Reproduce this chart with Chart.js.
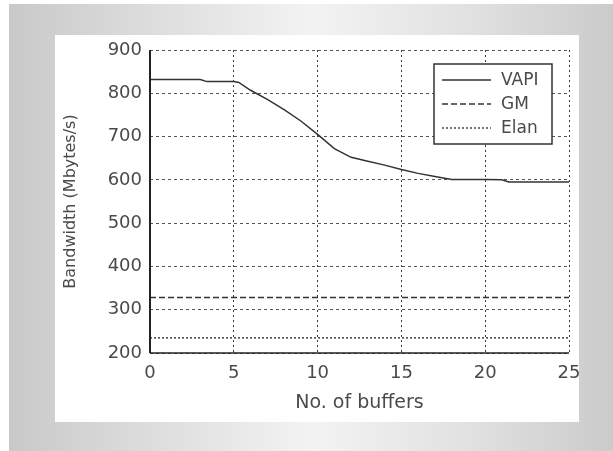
<!DOCTYPE html>
<html>
<head>
<meta charset="utf-8">
<script src="https://cdn.jsdelivr.net/npm/chart.js@4/dist/chart.umd.min.js"></script>
<style>
  html, body { margin: 0; padding: 0; background: #ffffff; }
  #frame { position: relative; width: 613px; height: 451px; overflow: hidden; background: #ffffff; }
  #shade {
    position: absolute; left: 9px; top: 4px; right: 0; bottom: 0;
    background: linear-gradient(to right, #c9c9c9 0%, #dedede 25%, #f3f3f3 50%, #e2e2e2 75%, #cbcbcb 100%);
  }
  #panel {
    position: absolute; left: 55px; top: 35px; width: 524px; height: 387px;
    background: #ffffff; overflow: hidden;
  }
  #chart { position: absolute; left: -55px; top: -35px; width: 613px; height: 451px; filter: blur(0.5px); }
</style>
</head>
<body>
<div id="frame">
  <div id="shade"></div>
  <div id="panel"><canvas id="chart" width="613" height="451"></canvas></div>
</div>
<script>
// Buffer counts and measured bandwidth (Mbytes/s)
const vapiBuffers = [0, 1, 2, 3, 3.4, 4, 5, 5.3, 6, 7, 8, 9, 10, 11, 12, 13, 14, 15, 16, 17, 18, 19, 20, 21, 21.4, 22, 23, 24, 25];
const vapiBandwidth = [832, 832, 832, 832, 827, 827, 827, 825, 807, 786, 762, 736, 705, 672, 652, 643, 634, 624, 615, 608, 601, 601, 601, 600, 595, 595, 595, 595, 595];
const gmBuffers = [0, 25];
const gmBandwidth = [328, 328];
const elanBuffers = [0, 25];
const elanBandwidth = [235, 235];
const seriesNames = ['VAPI', 'GM', 'Elan'];
const xTicks = [0, 5, 10, 15, 20, 25];
const yTicks = [200, 300, 400, 500, 600, 700, 800, 900];

const toPoints = (xs, ys) => xs.map((x, i) => ({ x: x, y: ys[i] }));

const ink = '#333333';
const textInk = '#4a4a4a';

// Solid left and bottom axis lines on top of the dotted grid
const axisLines = {
  id: 'axisLines',
  afterDraw(chart) {
    const { ctx, chartArea: a } = chart;
    ctx.save();
    ctx.strokeStyle = '#222222';
    ctx.setLineDash([]);
    ctx.lineWidth = 2;
    ctx.beginPath();
    ctx.moveTo(a.left, a.top);
    ctx.lineTo(a.left, a.bottom);
    ctx.stroke();
    ctx.lineWidth = 1.5;
    ctx.beginPath();
    ctx.moveTo(a.left, a.bottom);
    ctx.lineTo(a.right, a.bottom);
    ctx.stroke();
    ctx.restore();
  }
};

// Boxed legend drawn in the upper-right corner of the plot
const boxedLegend = {
  id: 'boxedLegend',
  afterDatasetsDraw(chart) {
    const ctx = chart.ctx;
    const bx = 434, by = 64, bw = 118, bh = 80;
    ctx.save();
    ctx.fillStyle = '#ffffff';
    ctx.fillRect(bx, by, bw, bh);
    ctx.lineWidth = 1.5;
    ctx.strokeStyle = ink;
    ctx.setLineDash([]);
    ctx.strokeRect(bx, by, bw, bh);
    const rows = [80, 104, 128];
    chart.data.datasets.forEach((ds, i) => {
      const y = rows[i];
      ctx.beginPath();
      ctx.lineWidth = ds.borderWidth;
      ctx.strokeStyle = ds.borderColor;
      ctx.setLineDash(ds.borderDash || []);
      ctx.moveTo(442, y);
      ctx.lineTo(491, y);
      ctx.stroke();
      ctx.setLineDash([]);
      ctx.fillStyle = textInk;
      ctx.font = '17px "DejaVu Sans"';
      ctx.textBaseline = 'middle';
      ctx.textAlign = 'left';
      ctx.fillText(ds.label, 501, y + 1);
    });
    ctx.restore();
  }
};

new Chart(document.getElementById('chart'), {
  type: 'line',
  data: {
    datasets: [
      { label: seriesNames[0], data: toPoints(vapiBuffers, vapiBandwidth), borderColor: ink, borderWidth: 1.5, borderDash: [], pointRadius: 0, tension: 0 },
      { label: seriesNames[1], data: toPoints(gmBuffers, gmBandwidth), borderColor: ink, borderWidth: 1.5, borderDash: [6, 3], pointRadius: 0 },
      { label: seriesNames[2], data: toPoints(elanBuffers, elanBandwidth), borderColor: '#444444', borderWidth: 1.5, borderDash: [2, 2], pointRadius: 0 }
    ]
  },
  options: {
    responsive: false,
    animation: false,
    events: [],
    layout: { padding: { left: 0, top: 50, right: 44, bottom: 0 } },
    plugins: { legend: { display: false }, tooltip: { enabled: false } },
    scales: {
      x: {
        type: 'linear', min: 0, max: 25,
        afterBuildTicks: (s) => { s.ticks = xTicks.map(v => ({ value: v })); },
        afterFit: (s) => { s.height = 98; },
        ticks: { color: textInk, font: { family: 'DejaVu Sans', size: 18 }, padding: 10, maxRotation: 0 },
        grid: { color: '#3c3c3c', lineWidth: 1, drawTicks: false },
        border: { display: false, dash: [2, 3] },
        title: { display: true, text: 'No. of buffers', color: textInk, font: { family: 'DejaVu Sans', size: 19 }, padding: { top: 0, bottom: 37 } }
      },
      y: {
        type: 'linear', min: 200, max: 900,
        afterBuildTicks: (s) => { s.ticks = yTicks.map(v => ({ value: v })); },
        afterFit: (s) => { s.width = 150; },
        ticks: { color: textInk, font: { family: 'DejaVu Sans', size: 18 }, padding: 8 },
        grid: { color: '#555555', lineWidth: 1, drawTicks: false },
        border: { display: false, dash: [3, 3] },
        title: { display: true, text: 'Bandwidth (Mbytes/s)', color: textInk, font: { family: 'DejaVu Sans', size: 16 }, padding: { top: 61, bottom: 0 } }
      }
    }
  },
  plugins: [axisLines, boxedLegend]
});
</script>
</body>
</html>
